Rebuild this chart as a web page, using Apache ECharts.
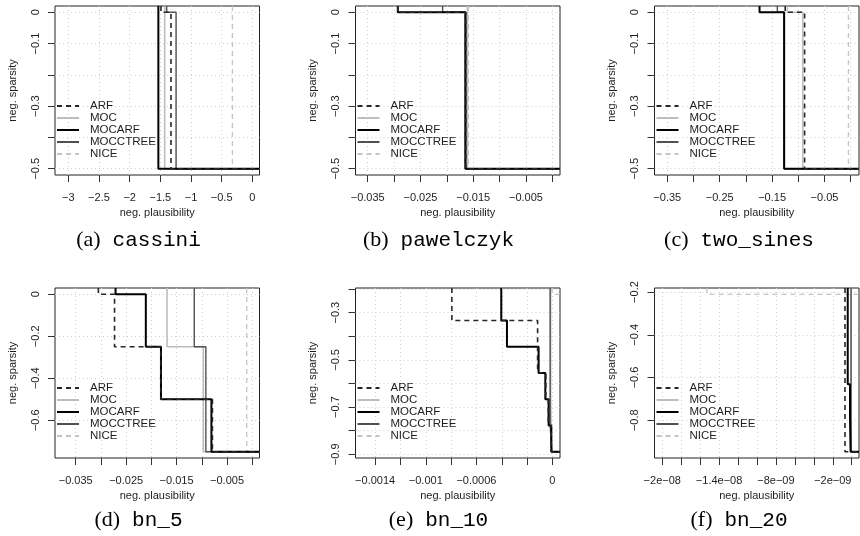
<!DOCTYPE html>
<html><head><meta charset="utf-8">
<script src="https://cdn.jsdelivr.net/npm/echarts@6/dist/echarts.min.js"></script>
<style>html,body{margin:0;padding:0;background:#fff}#c{width:860px;height:536px}</style>
</head><body><div id="c"></div>
<script>
// ---------------- DATA ----------------
const methods = ['ARF', 'MOC', 'MOCARF', 'MOCCTREE', 'NICE'];
const panelLetters = ['(a)', '(b)', '(c)', '(d)', '(e)', '(f)'];
const panelNames = ['cassini', 'pawelczyk', 'two_sines', 'bn_5', 'bn_10', 'bn_20'];

// Pareto fronts: [neg. plausibility, neg. sparsity], one list per method (order = methods)
const cassiniFronts = [
  [[-1.49, 0], [-1.326, -0.5]],
  [[-1.428, -0.5]],
  [[-1.532, -0.5]],
  [[-1.396, 0], [-1.243, -0.5]],
  [[-0.325, -0.5]]
];
const pawelczykFronts = [
  [[-0.0293, 0], [-0.0164, -0.5]],
  [[-0.0161, -0.5]],
  [[-0.0293, 0], [-0.0165, -0.5]],
  [[-0.0208, 0], [-0.0164, -0.5]],
  [[-0.0159, -0.5]]
];
const twoSinesFronts = [
  [[-0.125, 0], [-0.088, -0.5]],
  [[-0.121, 0], [-0.0914, -0.5]],
  [[-0.174, 0], [-0.127, -0.5]],
  [[-0.140, 0], [-0.127, -0.5]],
  [[-0.0044, -0.5]]
];
const bn5Fronts = [
  [[-0.0305, 0], [-0.0273, -0.25], [-0.0181, -0.5], [-0.0079, -0.75]],
  [[-0.0169, -0.25], [-0.0097, -0.75]],
  [[-0.0271, 0], [-0.0211, -0.25], [-0.0181, -0.5], [-0.0081, -0.75]],
  [[-0.0115, -0.25], [-0.0092, -0.75]],
  [[-0.0011, -0.75]]
];
const bn10Fronts = [
  [[-0.000794, -3 / 9], [-0.000117, -5 / 9], [-0.000052, -6 / 9], [-0.000033, -7 / 9], [-0.000010, -8 / 9]],
  [[-0.000014, -6 / 9], [-0.000006, -8 / 9]],
  [[-0.000404, -3 / 9], [-0.000359, -4 / 9], [-0.000109, -5 / 9], [-0.000056, -6 / 9], [-0.000030, -7 / 9], [-0.0000087, -8 / 9]],
  [[-0.000018, -7 / 9], [-0.000004, -8 / 9]],
  [[-0.000002, -2 / 9]]
];
const bn20Fronts = [
  [[-7.1e-10, -18 / 19]],
  [[-5e-11, -18 / 19]],
  [[-4.2e-10, -12 / 19], [-1.8e-10, -15 / 19], [-1.2e-10, -18 / 19]],
  [[-7e-11, -18 / 19]],
  [[-1.53e-8, -4 / 19]]
];
const allFronts = [cassiniFronts, pawelczykFronts, twoSinesFronts, bn5Fronts, bn10Fronts, bn20Fronts];

// tick positions and labels
const xTicksA = [-3, -2.5, -2, -1.5, -1, -0.5, 0];
const xLabelValsA = [-3, -2.5, -2, -1.5, -1, -0.5, 0];
const xLabelsA = ['\u22123', '\u22122.5', '\u22122', '\u22121.5', '\u22121', '\u22120.5', '0'];
const xTicksB = [-0.035, -0.03, -0.025, -0.02, -0.015, -0.01, -0.005, 0];
const xLabelValsB = [-0.035, -0.025, -0.015, -0.005];
const xLabelsB = ['\u22120.035', '\u22120.025', '\u22120.015', '\u22120.005'];
const xTicksC = [-0.35, -0.3, -0.25, -0.2, -0.15, -0.1, -0.05, 0];
const xLabelValsC = [-0.35, -0.25, -0.15, -0.05];
const xLabelsC = ['\u22120.35', '\u22120.25', '\u22120.15', '\u22120.05'];
const xTicksE = [-0.0014, -0.0012, -0.001, -0.0008, -0.0006, -0.0004, -0.0002, 0];
const xLabelValsE = [-0.0014, -0.001, -0.0006, 0];
const xLabelsE = ['\u22120.0014', '\u22120.001', '\u22120.0006', '0'];
const xTicksF = [-2e-8, -1.8e-8, -1.6e-8, -1.4e-8, -1.2e-8, -1e-8, -8e-9, -6e-9, -4e-9, -2e-9, 0];
const xLabelValsF = [-2e-8, -1.4e-8, -8e-9, -2e-9];
const xLabelsF = ['\u22122e\u221208', '\u22121.4e\u221208', '\u22128e\u221209', '\u22122e\u221209'];

const yTicksTop = [0, -0.1, -0.2, -0.3, -0.4, -0.5];
const yLabelValsTop = [0, -0.1, -0.3, -0.5];
const yLabelsTop = ['0', '\u22120.1', '\u22120.3', '\u22120.5'];
const yTicksD = [0, -0.2, -0.4, -0.6];
const yLabelsD = ['0', '\u22120.2', '\u22120.4', '\u22120.6'];
const yTicksE = [-0.2, -0.3, -0.4, -0.5, -0.6, -0.7, -0.8, -0.9];
const yLabelValsE = [-0.3, -0.5, -0.7, -0.9];
const yLabelsE = ['\u22120.3', '\u22120.5', '\u22120.7', '\u22120.9'];
const yTicksF = [-0.2, -0.4, -0.6, -0.8];
const yLabelsF = ['\u22120.2', '\u22120.4', '\u22120.6', '\u22120.8'];

const xAxesSpec = [
  [xTicksA, xLabelValsA, xLabelsA], [xTicksB, xLabelValsB, xLabelsB], [xTicksC, xLabelValsC, xLabelsC],
  [xTicksB, xLabelValsB, xLabelsB], [xTicksE, xLabelValsE, xLabelsE], [xTicksF, xLabelValsF, xLabelsF]
];
const yAxesSpec = [
  [yTicksTop, yLabelValsTop, yLabelsTop], [yTicksTop, yLabelValsTop, yLabelsTop], [yTicksTop, yLabelValsTop, yLabelsTop],
  [yTicksD, yTicksD, yLabelsD], [yTicksE, yLabelValsE, yLabelsE], [yTicksF, yTicksF, yLabelsF]
];

// axis ranges (plot region limits)
const xRanges = [[-3.217, 0.117], [-0.03732, 0.00146], [-0.3744, 0.0158], [-0.0391, 0.00143], [-0.001555, 0.0000599], [-2.082e-8, 7.7e-10]];
const yRanges = [[-0.52, 0.02], [-0.52, 0.02], [-0.52, 0.02], [-0.78, 0.03], [-0.9156, -0.1956], [-0.9769, -0.181]];

// ---------------- LAYOUT / STYLE ----------------
const colLeft = [55, 355.5, 654.5];
const rowTop = [6, 288];
const boxW = 204.5;
const boxH = [169, 170];
const captionX = [138.5, 438.5, 739];
const captionY = [240, 520.5];

const methodStyle = {
  ARF: { color: '#262626', width: 1.6, type: [5, 4] },
  MOC: { color: '#bdbdbd', width: 1.6, type: 'solid' },
  MOCARF: { color: '#000000', width: 2, type: 'solid' },
  MOCCTREE: { color: '#505050', width: 1.4, type: 'solid' },
  NICE: { color: '#c4c4c4', width: 1.3, type: [5, 4] }
};
const drawOrder = ['NICE', 'MOC', 'MOCCTREE', 'MOCARF', 'ARF'];
const FONT = 'Liberation Sans, Arial, Helvetica, sans-serif';

function stepPath(front, yTop, xRight) {
  const pts = [[front[0][0], yTop]];
  front.forEach((p, i) => {
    pts.push([p[0], p[1]]);
    if (i < front.length - 1) pts.push([front[i + 1][0], p[1]]);
  });
  pts.push([xRight, front[front.length - 1][1]]);
  return pts;
}
function labelFmt(vals, labels) {
  return function (v) {
    let best = 0, bd = Infinity;
    vals.forEach((x, i) => { const d = Math.abs(x - v); if (d < bd) { bd = d; best = i; } });
    return labels[best];
  };
}

const grids = [], xAxes = [], yAxes = [], series = [], legends = [], graphics = [];
for (let i = 0; i < 6; i++) {
  const col = i % 3, row = Math.floor(i / 3);
  grids.push({
    left: colLeft[col], top: rowTop[row], width: boxW, height: boxH[row],
    show: true, borderColor: '#222', borderWidth: 1, backgroundColor: 'transparent',
    containLabel: false, outerBoundsMode: 'none'
  });
  const xs = xAxesSpec[i], ys = yAxesSpec[i];
  const splitStyle = { show: true, lineStyle: { color: '#cfcfcf', type: [1, 3], width: 1 } };
  xAxes.push({
    type: 'value', gridIndex: i, min: xRanges[i][0], max: xRanges[i][1], position: 'bottom',
    axisLine: { show: false, onZero: false },
    axisTick: { show: true, inside: false, length: 7, customValues: xs[0], lineStyle: { color: '#333', width: 1 } },
    axisLabel: { customValues: xs[1], formatter: labelFmt(xs[1], xs[2]), margin: 17, fontSize: 11, color: '#1e1e1e', fontFamily: FONT },
    splitLine: splitStyle,
    name: 'neg. plausibility', nameLocation: 'middle', nameGap: 32,
    nameTextStyle: { fontSize: 11, color: '#1e1e1e', fontFamily: FONT }
  });
  yAxes.push({
    type: 'value', gridIndex: i, min: yRanges[i][0], max: yRanges[i][1], position: 'left',
    axisLine: { show: false, onZero: false },
    axisTick: { show: true, inside: false, length: 7, customValues: ys[0], lineStyle: { color: '#333', width: 1 } },
    axisLabel: { customValues: ys[1], formatter: labelFmt(ys[1], ys[2]), rotate: 90, margin: 14, fontSize: 11, color: '#1e1e1e', fontFamily: FONT },
    splitLine: splitStyle,
    name: 'neg. sparsity', nameLocation: 'middle', nameGap: 37, nameRotate: 90,
    nameTextStyle: { fontSize: 11, color: '#1e1e1e', fontFamily: FONT }
  });
  drawOrder.forEach(m => {
    const k = methods.indexOf(m);
    const st = methodStyle[m];
    series.push({
      type: 'line', name: m, xAxisIndex: i, yAxisIndex: i,
      data: stepPath(allFronts[i][k], yRanges[i][1], xRanges[i][1]),
      symbol: 'none', showSymbol: false, clip: true, animation: false, silent: true,
      lineStyle: { color: st.color, width: st.width, type: st.type },
      itemStyle: { color: st.color }
    });
  });
  legends.push({
    data: methods, orient: 'vertical',
    left: colLeft[col] + 1, top: rowTop[row] + 94,
    itemWidth: 22, itemHeight: 14, itemGap: 0, padding: 0,
    selectedMode: false,
    itemStyle: { color: 'rgba(0,0,0,0)', borderWidth: 0, opacity: 0 },
    textStyle: { fontSize: 11.5, color: '#1e1e1e', fontFamily: FONT, padding: [0, 0, 0, 6] }
  });
  graphics.push({
    type: 'text', x: captionX[col], y: captionY[row],
    style: {
      text: '{p|' + panelLetters[i] + '}{m|' + panelNames[i] + '}',
      align: 'center', verticalAlign: 'middle', fill: '#000',
      rich: {
        p: { fontFamily: 'Liberation Serif, DejaVu Serif, serif', fontSize: 22, padding: [0, 12, 0, 0], fill: '#000' },
        m: { fontFamily: 'Liberation Mono, DejaVu Sans Mono, monospace', fontSize: 21, fill: '#000' }
      }
    }
  });
}

const chart = echarts.init(document.getElementById('c'), null, { renderer: 'canvas' });
chart.setOption({
  animation: false,
  backgroundColor: '#fff',
  grid: grids, xAxis: xAxes, yAxis: yAxes, series: series, legend: legends,
  graphic: graphics
});
</script></body></html>
